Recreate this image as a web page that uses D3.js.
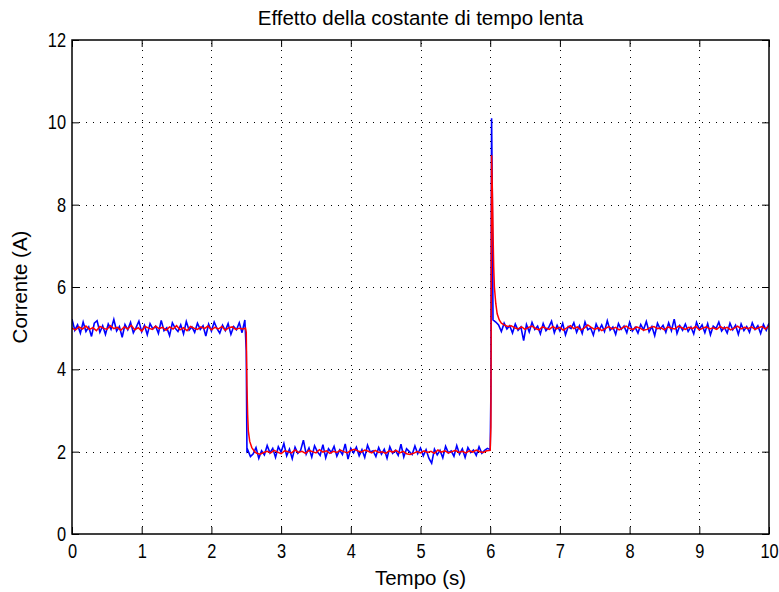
<!DOCTYPE html>
<html>
<head>
<meta charset="utf-8">
<script src="https://cdn.jsdelivr.net/npm/d3@7"></script>
<style>
  body { margin: 0; background: #fff; }
  text { font-family: "Liberation Sans", Arial, sans-serif; fill: #000; }
</style>
</head>
<body>
<div class="d3Chart"></div>
<script>
// 測量電流（藍）: 0 ~ 2.48 s, 每 0.04 s
var blueA = [
  5.22, 4.95, 5.08, 4.88, 5.15, 4.92, 5.03, 4.80, 5.12, 5.18,
  4.90, 5.06, 4.85, 5.10, 4.97, 5.21, 4.93, 5.04, 4.78, 5.09,
  4.96, 5.14, 4.89, 5.02, 5.17, 4.91, 5.07, 4.84, 5.11, 4.98,
  5.05, 4.87, 5.19, 4.94, 5.01, 4.82, 5.13, 5.00, 4.92, 5.08,
  4.86, 5.16, 4.95, 5.03, 4.90, 5.12, 4.97, 5.06, 4.81, 5.10,
  4.93, 5.15, 4.99, 4.88, 5.07, 4.94, 5.11, 4.85, 5.04, 4.96,
  5.13, 4.89, 5.20
];
var blueDrop = [[2.50, 4.45], [2.51, 2.02]];
// 2.52 ~ 5.96 s
var blueB = [
  2.05, 1.88, 1.95, 2.10, 1.84, 2.02, 1.92, 2.15, 1.97, 2.08,
  1.86, 2.12, 1.99, 2.20, 1.90, 2.06, 1.83, 2.11, 1.96, 2.03,
  2.28, 1.94, 2.09, 1.87, 2.14, 2.00, 1.91, 2.17, 1.85, 2.07,
  1.98, 2.13, 1.89, 2.04, 1.93, 2.19, 1.82, 2.08, 1.97, 2.11,
  1.90, 2.05, 1.86, 2.16, 1.99, 2.02, 1.88, 2.10, 1.94, 2.06,
  1.84, 2.12, 1.96, 2.03, 1.91, 2.18, 1.87, 2.07, 2.00, 1.93,
  2.14, 1.95, 2.09, 1.90, 2.05, 1.84, 1.72, 2.06, 1.92, 2.03,
  1.85, 2.13, 1.97, 2.02, 1.89, 2.15, 1.94, 2.07, 1.86, 2.10,
  1.98, 2.04, 1.91, 2.12, 1.96, 2.03, 2.08
];
var blueSpike = [[6.00, 2.05], [6.01, 3.4], [6.02, 10.1], [6.03, 8.3], [6.04, 5.2]];
// 6.08 ~ 10.00 s
var blueC = [
  5.15, 5.08, 4.92, 5.12, 4.98, 5.06, 4.88, 5.10, 4.95, 5.03,
  4.70, 5.09, 4.91, 5.14, 4.97, 5.05, 4.86, 5.11, 4.94, 5.02,
  5.17, 4.89, 5.07, 4.93, 5.12, 4.84, 5.04, 4.99, 5.13, 4.90,
  5.06, 4.87, 5.15, 4.96, 5.01, 4.83, 5.10, 4.94, 5.08, 4.92,
  5.18, 4.95, 5.03, 4.85, 5.11, 4.97, 5.05, 4.89, 5.14, 4.93,
  5.02, 4.88, 5.09, 4.96, 5.16, 4.91, 5.04, 4.82, 5.12, 4.98,
  5.07, 4.90, 5.13, 4.94, 5.22, 4.87, 5.06, 4.95, 5.10, 4.92,
  5.03, 4.86, 5.14, 4.97, 5.08, 4.89, 5.11, 4.84, 5.05, 4.99,
  5.15, 4.93, 5.02, 4.88, 5.12, 4.96, 5.07, 4.85, 5.10, 4.94,
  5.04, 4.90, 5.13, 4.97, 5.06, 4.87, 5.09, 4.95, 5.12
];

// 濾波後電流（紅）: 0 ~ 2.45 s, 每 0.05 s
var redA = [
  5.00, 4.96, 5.03, 4.98, 5.05, 4.97, 5.01, 4.94, 5.04, 5.00,
  4.97, 5.06, 4.99, 5.02, 4.95, 5.03, 4.98, 5.07, 4.96, 5.01,
  4.93, 5.04, 5.00, 4.97, 5.05, 4.99, 5.02, 4.95, 5.03, 4.98,
  5.06, 4.96, 5.01, 4.94, 5.04, 5.00, 4.97, 5.03, 4.99, 5.05,
  4.96, 5.02, 4.98, 5.04, 4.95, 5.01, 5.03, 4.97, 5.00, 4.98
];
var redDrop = [[2.49, 5.0], [2.50, 4.9], [2.51, 3.6], [2.52, 2.9], [2.53, 2.5],
  [2.55, 2.25], [2.58, 2.1], [2.62, 2.0]];
// 2.65 ~ 5.95 s
var redB = [
  1.96, 1.94, 1.98, 2.01, 1.97, 2.03, 1.99, 1.95, 2.02, 2.00,
  1.97, 2.04, 1.98, 2.01, 1.96, 2.03, 2.00, 1.97, 2.05, 1.99,
  2.02, 1.96, 2.01, 1.98, 2.04, 2.00, 1.97, 2.03, 2.06, 2.02,
  1.99, 2.04, 2.01, 1.97, 2.03, 1.98, 2.00, 1.96, 2.02, 1.99,
  2.03, 1.97, 2.01, 1.95, 1.93, 1.96, 2.00, 1.97, 2.02, 1.98,
  2.01, 1.96, 2.04, 1.99, 2.02, 1.97, 2.00, 2.03, 1.98, 2.01,
  1.97, 2.02, 1.99, 2.04, 2.00, 1.98, 2.02
];
var redSpike = [[6.00, 2.03], [6.01, 2.6], [6.02, 9.2], [6.03, 8.4], [6.04, 7.4],
  [6.05, 6.5], [6.06, 6.0], [6.08, 5.6], [6.10, 5.35], [6.13, 5.2], [6.16, 5.12]];
// 6.20 ~ 10.00 s
var redC = [
  5.08, 5.04, 5.06, 5.01, 4.98, 5.03, 4.97, 5.02, 5.05, 4.99,
  4.96, 5.03, 5.00, 4.97, 5.04, 4.98, 5.02, 4.95, 5.01, 5.06,
  4.99, 5.03, 4.96, 5.00, 5.08, 5.02, 4.97, 5.01, 4.94, 4.99,
  5.04, 4.98, 5.02, 4.96, 5.01, 5.05, 4.99, 4.97, 5.03, 5.00,
  4.95, 4.97, 5.02, 5.04, 4.99, 5.01, 4.96, 5.03, 5.00, 4.98,
  5.05, 5.01, 4.97, 5.02, 4.99, 5.04, 4.96, 5.00, 5.03, 4.98,
  5.01, 4.97, 5.04, 4.99, 5.02, 4.96, 5.00, 5.05, 4.98, 5.02,
  4.99, 5.03, 4.97, 5.01, 5.04, 4.98, 5.06
];

var xTicks = [0, 1, 2, 3, 4, 5, 6, 7, 8, 9, 10];
var yTicks = [0, 2, 4, 6, 8, 10, 12];

// 等間隔片段 -> [t, v]
function seg(t0, dt, vals) {
  return vals.map(function (v, i) { return [t0 + i * dt, v]; });
}
var bluePts = [].concat(seg(0, 0.04, blueA), blueDrop, seg(2.52, 0.04, blueB), blueSpike, seg(6.08, 0.04, blueC));
var redPts = [].concat(seg(0, 0.05, redA), redDrop, seg(2.65, 0.05, redB), redSpike, seg(6.2, 0.05, redC));

// 畫布
var width = 779;
var height = 592;
var plotL = 72, plotR = 769, plotT = 40, plotB = 534;

var svg = d3.select(".d3Chart").append("svg")
  .attr("width", width)
  .attr("height", height)
  .style("display", "block")
  .style("background", "#fff");

var x = d3.scaleLinear().domain([0, 10]).range([plotL, plotR]);
var y = d3.scaleLinear().domain([0, 12]).range([plotB, plotT]);

// 網格（點線）
var grid = svg.append("g").attr("stroke", "#000").attr("stroke-width", 1).attr("stroke-dasharray", "1,6");
grid.selectAll(".gx").data(xTicks.slice(1, -1)).enter().append("line")
  .attr("x1", function (d) { return Math.round(x(d)) + 0.5; })
  .attr("x2", function (d) { return Math.round(x(d)) + 0.5; })
  .attr("y1", plotB).attr("y2", plotT);
grid.selectAll(".gy").data(yTicks.slice(1, -1)).enter().append("line")
  .attr("y1", function (d) { return Math.round(y(d)) + 0.5; })
  .attr("y2", function (d) { return Math.round(y(d)) + 0.5; })
  .attr("x1", plotL).attr("x2", plotR);

// 曲線
svg.append("clipPath").attr("id", "clip").append("rect")
  .attr("x", plotL).attr("y", plotT).attr("width", plotR - plotL).attr("height", plotB - plotT);

var line = d3.line().x(function (d) { return x(d[0]); }).y(function (d) { return y(d[1]); });

svg.append("path").datum(bluePts)
  .attr("clip-path", "url(#clip)")
  .attr("fill", "none").attr("stroke", "#0000ff").attr("stroke-width", 1.6)
  .attr("d", line);
svg.append("path").datum(redPts)
  .attr("clip-path", "url(#clip)")
  .attr("fill", "none").attr("stroke", "#ff0000").attr("stroke-width", 1.5)
  .attr("d", line);

// 坐標軸（刻度朝內）
var fontSize = "20.5px";
var squeeze = 0.8; // 刻度數字較窄
var gx = svg.append("g").attr("transform", "translate(0," + plotB + ")")
  .call(d3.axisBottom(x).tickValues(xTicks).tickFormat(d3.format("d")).tickSizeInner(-7).tickSizeOuter(0).tickPadding(9));
var gy = svg.append("g").attr("transform", "translate(" + plotL + ",0)")
  .call(d3.axisLeft(y).tickValues(yTicks).tickFormat(d3.format("d")).tickSizeInner(-7).tickSizeOuter(0).tickPadding(6));
var gxt = svg.append("g").attr("transform", "translate(0," + plotT + ")")
  .call(d3.axisTop(x).tickValues(xTicks).tickFormat("").tickSizeInner(-7).tickSizeOuter(0));
var gyr = svg.append("g").attr("transform", "translate(" + plotR + ",0)")
  .call(d3.axisRight(y).tickValues(yTicks).tickFormat("").tickSizeInner(-7).tickSizeOuter(0));

[gx, gy, gxt, gyr].forEach(function (g) {
  g.select(".domain").remove();
  g.selectAll("line").attr("stroke", "#000");
  g.selectAll("text").style("font-size", fontSize).style("font-family", "\"Liberation Sans\", Arial, sans-serif").attr("fill", "#000");
});
gx.selectAll("text").attr("transform", "scale(" + squeeze + ",1)");
gy.selectAll("text").attr("x", -6 / squeeze).attr("transform", "scale(" + squeeze + ",1)");

// 外框
svg.append("rect")
  .attr("x", plotL).attr("y", plotT)
  .attr("width", plotR - plotL).attr("height", plotB - plotT)
  .attr("fill", "none").attr("stroke", "#000").attr("stroke-width", 1.5);

// 標題與軸標籤
svg.append("text")
  .attr("x", (plotL + plotR) / 2).attr("y", 25)
  .attr("text-anchor", "middle").style("font-size", fontSize)
  .text("Effetto della costante di tempo lenta");

svg.append("text")
  .attr("x", (plotL + plotR) / 2).attr("y", 585)
  .attr("text-anchor", "middle").style("font-size", fontSize)
  .text("Tempo (s)");

svg.append("text")
  .attr("transform", "translate(27," + (plotT + plotB) / 2 + ") rotate(-90)")
  .attr("text-anchor", "middle").style("font-size", fontSize)
  .text("Corrente (A)");
</script>
</body>
</html>
